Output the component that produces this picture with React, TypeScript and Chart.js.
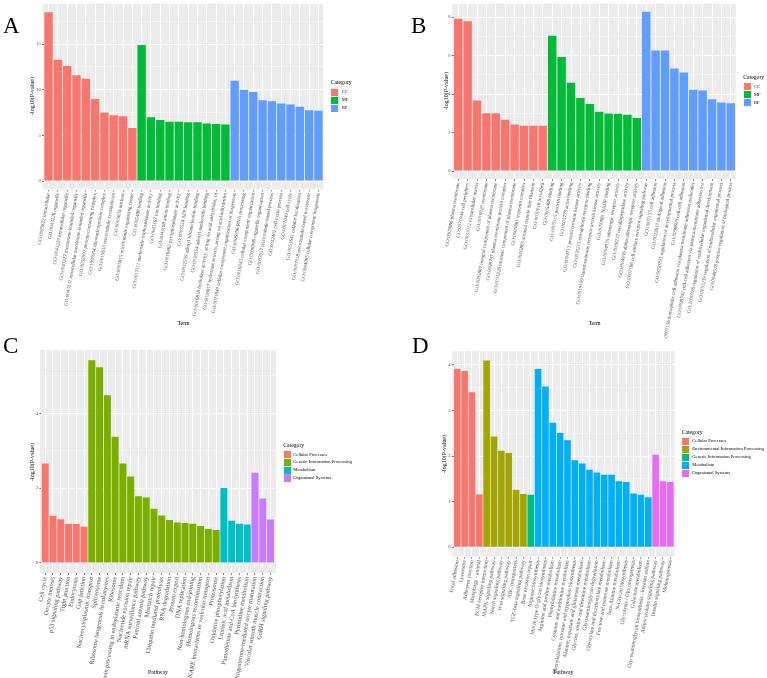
import React, { useEffect, useRef } from "react";
import { Chart, registerables } from "chart.js";

Chart.register(...registerables);

const SERIF = '"Liberation Serif", "Times New Roman", serif';

// ---------------- Panel A ----------------
const A_TERMS = [
  "GO:0005622 intracellular",
  "GO:0043226 organelle",
  "GO:0043229 intracellular organelle",
  "GO:0043227 membrane-bounded organelle",
  "GO:0043231 intracellular membrane-bounded organelle",
  "GO:0032991 protein-containing complex",
  "GO:1990904 ribonucleoprotein complex",
  "GO:0015630 microtubule cytoskeleton",
  "GO:0005634 nucleus",
  "GO:0005815 microtubule organizing center",
  "GO:0005488 binding",
  "GO:0017111 nucleoside-triphosphatase activity",
  "GO:0043167 ion binding",
  "GO:0043168 anion binding",
  "GO:0016462 pyrophosphatase activity",
  "GO:0005524 ATP binding",
  "GO:0032559 adenyl ribonucleotide binding",
  "GO:0030554 adenyl nucleotide binding",
  "GO:0016818 hydrolase activity, acting on acid anhydrides, in",
  "GO:0016817 hydrolase activity, acting on acid anhydrides",
  "GO:0071840 cellular component organization or biogenesis",
  "GO:0006396 RNA processing",
  "GO:0016043 cellular component organization",
  "GO:0006996 organelle organization",
  "GO:0007017 microtubule-based process",
  "GO:0022402 cell cycle process",
  "GO:0007049 cell cycle",
  "GO:0051641 cellular localization",
  "GO:0007018 microtubule-based movement",
  "GO:0044085 cellular component biogenesis",
];
const A_VALUES = [
  18.5, 13.3, 12.6, 11.6, 11.2, 9.0, 7.5, 7.2, 7.1, 5.8,
  14.9, 7.0, 6.7, 6.5, 6.5, 6.45, 6.45, 6.3, 6.25, 6.2,
  11.0, 10.0, 9.75, 8.85, 8.75, 8.5, 8.4, 8.15, 7.75, 7.7,
];
const A_GROUPS = [
  "CC", "CC", "CC", "CC", "CC", "CC", "CC", "CC", "CC", "CC",
  "MF", "MF", "MF", "MF", "MF", "MF", "MF", "MF", "MF", "MF",
  "BP", "BP", "BP", "BP", "BP", "BP", "BP", "BP", "BP", "BP",
];
const A_CATEGORIES = ["CC", "MF", "BP"];
const A_Y_MAJOR = [0, 5, 10, 15];
const A_Y_MINOR = [2.5, 7.5, 12.5, 17.5];
const A_Y_RANGE = [-0.925, 19.425];

// ---------------- Panel B ----------------
const B_TERMS = [
  "GO:0005886 plasma membrane",
  "GO:0071944 cell periphery",
  "GO:0031012 extracellular matrix",
  "GO:0016020 membrane",
  "GO:0005887 integral component of plasma membrane",
  "GO:0098797 plasma membrane protein complex",
  "GO:0031226 intrinsic component of plasma membrane",
  "GO:0005861 troponin complex",
  "GO:0005865 striated muscle thin filament",
  "GO:0030016 myofibril",
  "GO:0005488 binding",
  "GO:0005515 protein binding",
  "GO:0003779 actin binding",
  "GO:0004713 protein tyrosine kinase activity",
  "GO:0030215 semaphorin receptor binding",
  "GO:0019199 transmembrane receptor protein kinase activity",
  "GO:0050661 NADP binding",
  "GO:0004935 adrenergic receptor activity",
  "GO:0008237 metallopeptidase activity",
  "GO:0004936 alpha-adrenergic receptor activity",
  "GO:0007166 cell surface receptor signaling pathway",
  "GO:0007155 cell adhesion",
  "GO:0022610 biological adhesion",
  "GO:0050793 regulation of developmental process",
  "GO:0098609 cell-cell adhesion",
  "GO:0007156 homophilic cell adhesion via plasma membrane adhesion molecules",
  "GO:0098742 cell-cell adhesion via plasma-membrane adhesion mo",
  "GO:2000026 regulation of multicellular organismal development",
  "GO:0051239 regulation of multicellular organismal process",
  "GO:0048518 positive regulation of biological process",
];
const B_VALUES = [
  7.92, 7.78, 3.66, 3.0, 3.0, 2.66, 2.42, 2.35, 2.35, 2.35,
  7.03, 5.93, 4.59, 3.8, 3.49, 3.08, 2.99, 2.98, 2.92, 2.75,
  8.28, 6.27, 6.27, 5.33, 5.12, 4.23, 4.18, 3.73, 3.56, 3.52,
];
const B_GROUPS = A_GROUPS;
const B_CATEGORIES = ["CC", "MF", "BP"];
const B_Y_MAJOR = [0, 2, 4, 6, 8];
const B_Y_MINOR = [1, 3, 5, 7];
const B_Y_RANGE = [-0.414, 8.694];

// ---------------- Panel C ----------------
const C_PATHWAYS = [
  "Cell cycle",
  "Oocyte meiosis",
  "p53 signaling pathway",
  "Tight junction",
  "Endocytosis",
  "Gap junction",
  "Nucleocytoplasmic transport",
  "Spliceosome",
  "Ribosome biogenesis in eukaryotes",
  "Ribosome",
  "Protein processing in endoplasmic reticulum",
  "Nucleotide excision repair",
  "mRNA surveillance pathway",
  "Fanconi anemia pathway",
  "Mismatch repair",
  "Ubiquitin mediated proteolysis",
  "RNA degradation",
  "Protein export",
  "DNA replication",
  "Non-homologous end-joining",
  "Homologous recombination",
  "SNARE interactions in vesicular transport",
  "Proteasome",
  "Oxidative phosphorylation",
  "Linoleic acid metabolism",
  "Pantothenate and CoA biosynthesis",
  "Pyrimidine metabolism",
  "Progesterone-mediated oocyte maturation",
  "Vascular smooth muscle contraction",
  "GnRH signaling pathway",
];
const C_VALUES = [
  2.66, 1.26, 1.17, 1.05, 1.04, 0.97,
  5.42, 5.23, 4.48, 3.37, 2.66, 2.31, 1.78, 1.75, 1.45, 1.27, 1.15, 1.08, 1.07, 1.05, 0.99, 0.91, 0.88,
  2.0, 1.13, 1.05, 1.03,
  2.41, 1.72, 1.16,
];
const C_CATEGORIES = ["Cellular Processes", "Genetic Information Processing", "Metabolism", "Organismal Systems"];
const C_GROUPS = [
  "Cellular Processes", "Cellular Processes", "Cellular Processes", "Cellular Processes", "Cellular Processes", "Cellular Processes",
  "Genetic Information Processing", "Genetic Information Processing", "Genetic Information Processing", "Genetic Information Processing",
  "Genetic Information Processing", "Genetic Information Processing", "Genetic Information Processing", "Genetic Information Processing",
  "Genetic Information Processing", "Genetic Information Processing", "Genetic Information Processing", "Genetic Information Processing",
  "Genetic Information Processing", "Genetic Information Processing", "Genetic Information Processing", "Genetic Information Processing",
  "Genetic Information Processing",
  "Metabolism", "Metabolism", "Metabolism", "Metabolism",
  "Organismal Systems", "Organismal Systems", "Organismal Systems",
];
const C_Y_MAJOR = [0, 2, 4];
const C_Y_MINOR = [1, 3, 5];
const C_Y_RANGE = [-0.271, 5.691];

// ---------------- Panel D ----------------
const D_PATHWAYS = [
  "Focal adhesion",
  "Lysosome",
  "Adherens junction",
  "Mitophagy - animal",
  "ECM-receptor interaction",
  "MAPK signaling pathway",
  "Notch signaling pathway",
  "Wnt signaling pathway",
  "ABC transporters",
  "TGF-beta signaling pathway",
  "Base excision repair",
  "Arginine biosynthesis",
  "Mucin type O-glycan biosynthesis",
  "Arginine and proline metabolism",
  "Phenylalanine metabolism",
  "Cysteine and methionine metabolism",
  "Phenylalanine, tyrosine and tryptophan biosynthesis",
  "Alanine, aspartate and glutamate metabolism",
  "Glycine, serine and threonine metabolism",
  "Glycosaminoglycan degradation",
  "Glyoxylate and dicarboxylate metabolism",
  "Fructose and mannose metabolism",
  "beta-Alanine metabolism",
  "N-Glycan biosynthesis",
  "Glycolysis / Gluconeogenesis",
  "Galactose metabolism",
  "Glycosaminoglycan biosynthesis - keratan sulfate",
  "Adipocytokine signaling pathway",
  "Insulin signaling pathway",
  "Melanogenesis",
];
const D_VALUES = [
  3.91, 3.87, 3.4, 1.16,
  4.1, 2.43, 2.12, 2.07, 1.26, 1.17,
  1.15,
  3.91, 3.53, 2.73, 2.51, 2.35, 1.91, 1.84, 1.7, 1.64, 1.59, 1.59, 1.45, 1.43, 1.18, 1.15, 1.1,
  2.03, 1.45, 1.43,
];
const D_CATEGORIES = [
  "Cellular Processes",
  "Environmental Information Processing",
  "Genetic Information Processing",
  "Metabolism",
  "Organismal Systems",
];
const D_GROUPS = [
  "Cellular Processes", "Cellular Processes", "Cellular Processes", "Cellular Processes",
  "Environmental Information Processing", "Environmental Information Processing", "Environmental Information Processing",
  "Environmental Information Processing", "Environmental Information Processing", "Environmental Information Processing",
  "Genetic Information Processing",
  "Metabolism", "Metabolism", "Metabolism", "Metabolism", "Metabolism", "Metabolism", "Metabolism", "Metabolism",
  "Metabolism", "Metabolism", "Metabolism", "Metabolism", "Metabolism", "Metabolism", "Metabolism", "Metabolism",
  "Organismal Systems", "Organismal Systems", "Organismal Systems",
];
const D_Y_MAJOR = [0, 1, 2, 3, 4];
const D_Y_MINOR = [0.5, 1.5, 2.5, 3.5];
const D_Y_RANGE = [-0.205, 4.305];

// ---------------- Styles ----------------
const COLORS_3 = ["#F8766D", "#00BA38", "#619CFF"];
const COLORS_4 = ["#F8766D", "#7CAE00", "#00BFC4", "#C77CFF"];
const COLORS_5 = ["#F8766D", "#A3A500", "#00BF7D", "#00B0F6", "#E76BF3"];

type Area = { l: number; r: number; t: number; b: number; extL: number; extR: number };

type PanelProps = {
  labels: string[];
  values: number[];
  groups: string[];
  categories: string[];
  colors: string[];
  yMajor: number[];
  yMinor: number[];
  yRange: number[];
  left: number;
  top: number;
  width: number;
  height: number;
  area: Area;
  xFont: number;
  yFont: number;
};

function BarPanel(p: PanelProps) {
  const ref = useRef<HTMLCanvasElement | null>(null);
  useEffect(() => {
    if (!ref.current) return;
    const datasets = p.categories.map((cat, ci) => ({
      label: cat,
      data: p.values.map((v, i) => (p.groups[i] === cat ? v : null)),
      backgroundColor: p.colors[ci],
      borderWidth: 0,
      barPercentage: 0.9,
      categoryPercentage: 1,
    }));
    const major = new Set(p.yMajor);
    const allTicks = [...p.yMajor, ...p.yMinor].sort((a, b) => a - b);
    const bgPlugin = {
      id: "ggPanelBg",
      beforeDraw(chart: any) {
        const { ctx, chartArea: ca } = chart;
        ctx.save();
        ctx.fillStyle = "#EBEBEB";
        ctx.fillRect(
          ca.left - p.area.extL,
          ca.top,
          ca.right - ca.left + p.area.extL + p.area.extR,
          ca.bottom - ca.top
        );
        ctx.restore();
      },
    };
    const chart = new Chart(ref.current, {
      type: "bar",
      data: { labels: p.labels, datasets: datasets as any },
      options: {
        animation: false,
        responsive: false,
        devicePixelRatio: 1,
        layout: {
          padding: { left: 0, top: p.area.t, right: p.width - p.area.r, bottom: 0 },
        },
        plugins: { legend: { display: false }, tooltip: { enabled: false } },
        scales: {
          x: {
            stacked: true,
            offset: true,
            border: { display: false },
            grid: {
              offset: false,
              color: "#FFFFFF",
              lineWidth: 1,
              drawTicks: true,
              tickLength: 2,
              tickColor: "#333333",
              tickWidth: 0.6,
            },
            ticks: {
              autoSkip: false,
              minRotation: 80,
              maxRotation: 80,
              padding: 1,
              color: "#4D4D4D",
              font: { family: SERIF, size: p.xFont },
            },
            afterFit: (s: any) => {
              s.height = p.height - p.area.b;
            },
          },
          y: {
            stacked: true,
            min: p.yRange[0],
            max: p.yRange[1],
            border: { display: false },
            afterBuildTicks: (s: any) => {
              s.ticks = allTicks.map((v) => ({ value: v }));
            },
            grid: {
              color: "#FFFFFF",
              lineWidth: (c: any) => (c.tick && major.has(c.tick.value) ? 1 : 0.5),
              drawTicks: true,
              tickLength: 2,
              tickWidth: 0.6,
              tickColor: (c: any) => (c.tick && major.has(c.tick.value) ? "#333333" : "rgba(0,0,0,0)"),
            },
            ticks: {
              padding: 1,
              color: "#4D4D4D",
              font: { family: SERIF, size: p.yFont },
              callback: (v: any) => (major.has(Number(v)) ? String(v) : ""),
            },
            afterFit: (s: any) => {
              s.width = p.area.l;
            },
          },
        },
      } as any,
      plugins: [bgPlugin],
    });
    return () => chart.destroy();
  }, []);
  return (
    <canvas
      ref={ref}
      width={p.width}
      height={p.height}
      style={{ position: "absolute", left: p.left, top: p.top, width: p.width, height: p.height }}
    />
  );
}

function Txt(props: { x: number; y: number; size: number; text: string; anchor?: "center" | "left" }) {
  const tx = props.anchor === "left" ? "0" : "-50%";
  return (
    <div
      style={{
        position: "absolute",
        left: props.x,
        top: props.y,
        fontFamily: SERIF,
        fontSize: props.size,
        lineHeight: 1,
        whiteSpace: "nowrap",
        color: "#000000",
        transform: `translate(${tx}, -50%)`,
      }}
    >
      {props.text}
    </div>
  );
}

function RotTxt(props: { x: number; y: number; size: number; text: string }) {
  return (
    <div style={{ position: "absolute", left: props.x, top: props.y, width: 0, height: 0 }}>
      <div
        style={{
          position: "absolute",
          left: 0,
          top: 0,
          fontFamily: SERIF,
          fontSize: props.size,
          lineHeight: 1,
          whiteSpace: "nowrap",
          color: "#000",
          transform: "translate(-50%, -50%) rotate(-90deg)",
        }}
      >
        {props.text}
      </div>
    </div>
  );
}

function Legend(props: {
  x: number;
  titleY: number;
  keyTop: number;
  keyH: number;
  textX: number;
  items: string[];
  colors: string[];
}) {
  return (
    <>
      <Txt x={props.x} y={props.titleY} size={5.7} text="Category" anchor="left" />
      {props.items.map((it, i) => (
        <React.Fragment key={it}>
          <div
            style={{
              position: "absolute",
              left: props.x,
              top: props.keyTop + i * props.keyH,
              width: props.keyH,
              height: props.keyH,
              background: "#F2F2F2",
            }}
          >
            <div
              style={{
                position: "absolute",
                left: 0.4,
                top: 0.4,
                right: 0.4,
                bottom: 0.4,
                background: props.colors[i],
              }}
            />
          </div>
          <Txt x={props.textX} y={props.keyTop + i * props.keyH + props.keyH / 2} size={4.6} text={it} anchor="left" />
        </React.Fragment>
      ))}
    </>
  );
}

function Letter(props: { x: number; y: number; text: string }) {
  return (
    <div
      style={{
        position: "absolute",
        left: props.x,
        top: props.y,
        fontFamily: SERIF,
        fontSize: 23,
        lineHeight: 1,
        color: "#000",
      }}
    >
      {props.text}
    </div>
  );
}

export default function App() {
  return (
    <div
      style={{
        position: "fixed",
        left: 0,
        top: 0,
        width: 767,
        height: 678,
        background: "#FFFFFF",
        overflow: "hidden",
      }}
    >
      <BarPanel
        labels={A_TERMS}
        values={A_VALUES}
        groups={A_GROUPS}
        categories={A_CATEGORIES}
        colors={COLORS_3}
        yMajor={A_Y_MAJOR}
        yMinor={A_Y_MINOR}
        yRange={A_Y_RANGE}
        left={0}
        top={0}
        width={384}
        height={339}
        area={{ l: 43.9, r: 323.1, t: 2.7, b: 189.5, extL: 1.2, extR: 0.2 }}
        xFont={5.1}
        yFont={4.6}
      />
      <BarPanel
        labels={B_TERMS}
        values={B_VALUES}
        groups={B_GROUPS}
        categories={B_CATEGORIES}
        colors={COLORS_3}
        yMajor={B_Y_MAJOR}
        yMinor={B_Y_MINOR}
        yRange={B_Y_RANGE}
        left={384}
        top={0}
        width={383}
        height={339}
        area={{ l: 69.5, r: 351.5, t: 2.25, b: 179, extL: 1.2, extR: 0.2 }}
        xFont={5.1}
        yFont={4.6}
      />
      <BarPanel
        labels={C_PATHWAYS}
        values={C_VALUES}
        groups={C_GROUPS}
        categories={C_CATEGORIES}
        colors={COLORS_4}
        yMajor={C_Y_MAJOR}
        yMinor={C_Y_MINOR}
        yRange={C_Y_RANGE}
        left={0}
        top={339}
        width={384}
        height={339}
        area={{ l: 41.3, r: 274.4, t: 11.0, b: 234.1, extL: 1.3, extR: 1.6 }}
        xFont={6.3}
        yFont={4.8}
      />
      <BarPanel
        labels={D_PATHWAYS}
        values={D_VALUES}
        groups={D_GROUPS}
        categories={D_CATEGORIES}
        colors={COLORS_5}
        yMajor={D_Y_MAJOR}
        yMinor={D_Y_MINOR}
        yRange={D_Y_RANGE}
        left={384}
        top={339}
        width={383}
        height={339}
        area={{ l: 69.6, r: 290.0, t: 12.1, b: 217.6, extL: 1.3, extR: 0.7 }}
        xFont={5.5}
        yFont={4.6}
      />

      <Letter x={3} y={13.7} text="A" />
      <Letter x={411} y={13.7} text="B" />
      <Letter x={3} y={333.7} text="C" />
      <Letter x={412} y={333.7} text="D" />

      <RotTxt x={31.5} y={96} size={6} text="-log10(P-value)" />
      <Txt x={183.5} y={324} size={5.8} text="Term" />
      <RotTxt x={445.7} y={90.6} size={6} text="-log10(P-value)" />
      <Txt x={594.5} y={324} size={5.8} text="Term" />
      <RotTxt x={31.7} y={461.5} size={6} text="-log10(P-value)" />
      <Txt x={158} y={672.7} size={5.8} text="Pathway" />
      <RotTxt x={444} y={453.9} size={6} text="-log10(P-value)" />
      <Txt x={563.5} y={672.7} size={5.8} text="Pathway" />

      <Legend x={330.7} titleY={83} keyTop={88.3} keyH={8} textX={341.7} items={A_CATEGORIES} colors={COLORS_3} />
      <Legend x={743.3} titleY={77.7} keyTop={82.7} keyH={8} textX={754} items={B_CATEGORIES} colors={COLORS_3} />
      <Legend x={283.3} titleY={445.7} keyTop={450.7} keyH={7.8} textX={293.3} items={C_CATEGORIES} colors={COLORS_4} />
      <Legend x={681.7} titleY={433.3} keyTop={437.3} keyH={8} textX={692.3} items={D_CATEGORIES} colors={COLORS_5} />
    </div>
  );
}
